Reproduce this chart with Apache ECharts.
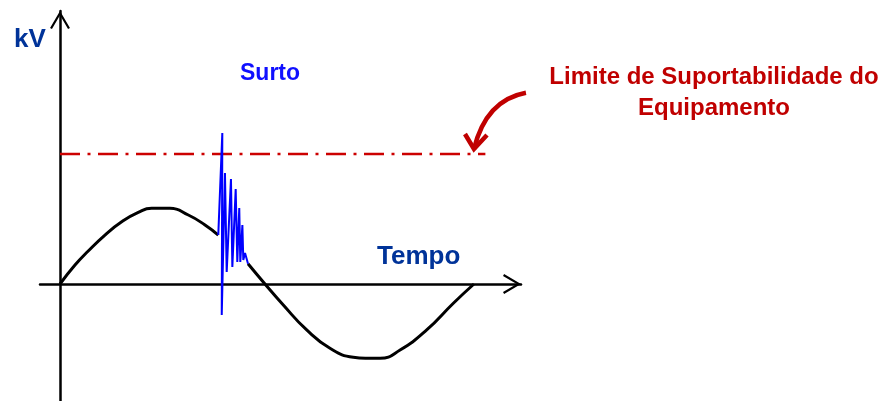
<!DOCTYPE html>
<html>
<head>
<meta charset="utf-8">
<script src="https://cdn.jsdelivr.net/npm/echarts@6/dist/echarts.min.js"></script>
<style>
html, body { margin: 0; padding: 0; background: #fff; }
#chart { width: 881px; height: 401px; }
</style>
</head>
<body>
<div id="chart"></div>
<script>
// tempo em graus (um ciclo = 360), tensao em p.u.
var ondaAntesX = [0, 13, 24.5, 39, 53.5, 67.9, 79.5, 95.4, 111.3, 125.8, 137.3];
var ondaAntesY = [0, 0.253, 0.44, 0.653, 0.831, 0.956, 1.009, 1.009, 0.92, 0.787, 0.653];
var ondaDepoisX = [163.1, 177.8, 193.7, 214, 234.2, 254.4, 266.3, 277.6, 295, 318.1, 341.2, 359.1];
var ondaDepoisY = [0.27, 0, -0.28, -0.613, -0.857, -0.977, -0.99, -0.991, -0.88, -0.613, -0.257, 0];
var surtoX = [137.3, 140.8, 140.3, 143.1, 144.6, 148.3, 149.5, 152.4, 153.8, 155.5, 156.4, 158.2, 159.0, 160.5, 163.1];
var surtoY = [0.653, 2.013, -0.413, 1.48, 0.16, 1.4, 0.227, 1.267, 0.293, 1.013, 0.293, 0.787, 0.32, 0.413, 0.27];
var limiteX = [0, 369];
var limiteY = [1.733, 1.733];
// seta de anotacao: inicio, controle, ponta, bracos
var setaX = [404.2, 369.5, 359.1, 351.3, 370.4];
var setaY = [2.551, 2.453, 1.8, 2.0, 1.987];

function pares(xs, ys) {
    var out = [];
    for (var i = 0; i < xs.length; i++) out.push([xs[i], ys[i]]);
    return out;
}

var seta = 'path://M10,0 L20,17 L18.1,18.1 L10,4.3 L1.9,18.1 L0,17 Z';
var fonte = '"Liberation Sans", Arial, sans-serif';

var myChart = echarts.init(document.getElementById('chart'));
var option = {
    animation: false,
    grid: { left: 40, right: 360, top: 11, bottom: 0 },
    xAxis: {
        type: 'value', min: -17.35, max: 399.9,
        axisLine: { onZero: true, lineStyle: { color: '#000', width: 2.5 },
            symbol: ['none', seta], symbolSize: [20, 18], symbolOffset: [0, -9] },
        axisTick: { show: false }, axisLabel: { show: false }, splitLine: { show: false }
    },
    yAxis: {
        type: 'value', min: -1.56, max: 3.64,
        axisLine: { onZero: true, lineStyle: { color: '#000', width: 2.5 },
            symbol: ['none', seta], symbolSize: [20, 18], symbolOffset: [0, -9] },
        axisTick: { show: false }, axisLabel: { show: false }, splitLine: { show: false }
    },
    graphic: [
        { type: 'text', left: 14, top: 27, style: { text: 'kV', font: 'bold 26px ' + fonte, fill: '#003399' } },
        { type: 'text', left: 240, top: 62, style: { text: 'Surto', font: 'bold 23px ' + fonte, fill: '#1010FF' } },
        { type: 'text', left: 377, top: 244, style: { text: 'Tempo', font: 'bold 26px ' + fonte, fill: '#003399' } },
        { type: 'text', x: 714, y: 62, style: { text: 'Limite de Suportabilidade do\nEquipamento',
            font: 'bold 24px ' + fonte, fill: '#C00000', align: 'center', lineHeight: 31 } }
    ],
    series: [
        {
            type: 'line', data: pares(limiteX, limiteY), showSymbol: false, silent: true,
            lineStyle: { color: '#CC0000', width: 2.5, type: [20, 7.5, 3, 7.5] }
        },
        {
            type: 'line', data: pares(ondaAntesX, ondaAntesY), showSymbol: false, smooth: 0.5,
            lineStyle: { color: '#000', width: 3 }
        },
        {
            type: 'line', data: pares(ondaDepoisX, ondaDepoisY), showSymbol: false, smooth: 0.5,
            lineStyle: { color: '#000', width: 3 }
        },
        {
            type: 'line', data: pares(surtoX, surtoY), showSymbol: false,
            lineStyle: { color: '#0000FF', width: 2 }
        },
        {
            type: 'custom', data: [[setaX[2], setaY[2]]], silent: true,
            renderItem: function (params, api) {
                var s = api.coord([setaX[0], setaY[0]]);
                var c = api.coord([setaX[1], setaY[1]]);
                var t = api.coord([setaX[2], setaY[2]]);
                var a1 = api.coord([setaX[3], setaY[3]]);
                var a2 = api.coord([setaX[4], setaY[4]]);
                return {
                    type: 'group',
                    children: [
                        { type: 'bezierCurve', shape: { x1: s[0], y1: s[1], cpx1: c[0], cpy1: c[1], x2: t[0], y2: t[1] },
                          style: { stroke: '#C00000', lineWidth: 4.5, fill: null } },
                        { type: 'polyline', shape: { points: [a1, t, a2] },
                          style: { stroke: '#C00000', lineWidth: 4.5, fill: null, lineJoin: 'miter' } }
                    ]
                };
            }
        }
    ]
};
myChart.setOption(option);
window.onresize = function () {
    myChart.resize();
};
</script>
</body>
</html>
